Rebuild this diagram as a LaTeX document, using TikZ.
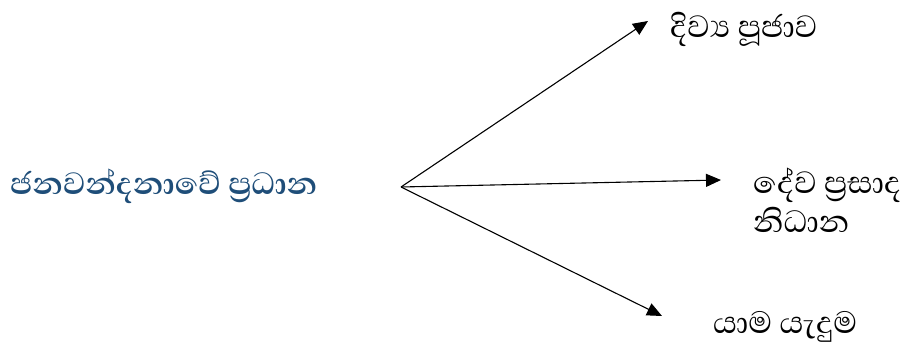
\documentclass[tikz,border=0pt]{standalone}
\usepackage{fontspec}
\newfontfamily\sinhalafont[Script=Sinhala]{Abhaya Libre}
\usetikzlibrary{arrows.meta}
\definecolor{mainblue}{HTML}{1F4E79}
\begin{document}
\begin{tikzpicture}[x=1pt,y=-1pt,
  arr/.style={line width=1.1pt,-{Triangle[length=15pt,width=13pt]}},
  lbl/.style={font=\sinhalafont\fontsize{39.5}{40}\selectfont,inner sep=0pt,anchor=base west},
  mainlbl/.style={font=\sinhalafont\bfseries\fontsize{39.5}{40}\selectfont,text=mainblue,inner sep=0pt,anchor=base west}]
\useasboundingbox (0,0) rectangle (904,347);
\coordinate (o) at (401,187);
\coordinate (t1) at (648,21);
\coordinate (t2) at (721,180);
\coordinate (t3) at (662,316);
\node[mainlbl] (m) at (10,195) {ජනවන්දනාවේ ප්‍රධාන};
\node[lbl] (a) at (670,38) {දිව්‍ය පූජාව};
\node[lbl] (b) at (753,194) {දේව ප්‍රසාද};
\node[lbl] (b2) at (753,233) {නිධාන};
\node[lbl] (c) at (713,333) {යාම යැදුම};
\draw[arr] (o) -- (t1);
\draw[arr] (o) -- (t2);
\draw[arr] (o) -- (t3);
\end{tikzpicture}
\end{document}
